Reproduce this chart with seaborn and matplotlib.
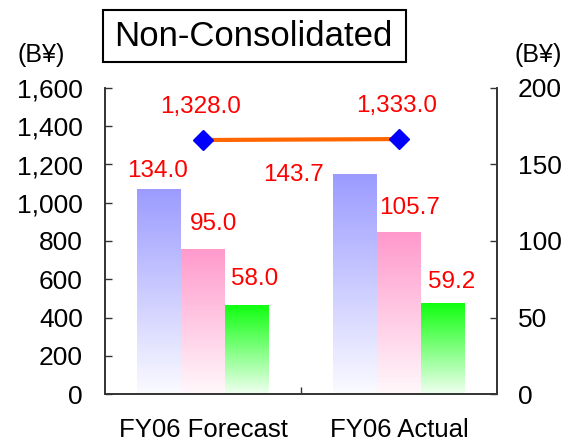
import numpy as np
import pandas as pd
import matplotlib
matplotlib.use("Agg")
import matplotlib.pyplot as plt
from matplotlib.patches import Rectangle
from matplotlib.colors import to_rgb
import seaborn as sns

# ---- data -------------------------------------------------------------
periods = ["FY06 Forecast", "FY06 Actual"]
series = ["A", "B", "C"]
bar_a = [134.0, 143.7]
bar_b = [95.0, 105.7]
bar_c = [58.0, 59.2]
line_vals = [1328.0, 1333.0]
left_ticks = [0, 200, 400, 600, 800, 1000, 1200, 1400, 1600]
right_ticks = [0, 50, 100, 150, 200]

sns.set_theme(style="white")
plt.rcParams["font.family"] = ["Liberation Sans", "DejaVu Sans"]

df = pd.DataFrame({
    "period": periods * 3,
    "series": [s for s in series for _ in periods],
    "value": bar_a + bar_b + bar_c,
})

fig = plt.figure(figsize=(5.65, 4.43), dpi=100)
ax = fig.add_axes([105 / 565, 49 / 443, 392 / 565, 306 / 443])
ax2 = ax.twinx()

# bars on the right-hand scale
sns.barplot(data=df, x="period", y="value", hue="series", order=periods,
            hue_order=series, width=0.67, gap=0, ax=ax2, legend=False,
            edgecolor="none", linewidth=0)

top_colors = ["#9b9bff", "#ff99cc", "#10ff10"]
bottom_colors = ["#fbfbff", "#fff8fb", "#f0fff0"]
patches = list(ax2.patches)
for i, p in enumerate(patches):
    k = i // len(periods)
    x0, w, h = p.get_x(), p.get_width(), p.get_height()
    t = np.array(to_rgb(top_colors[k]))
    b = np.array(to_rgb(bottom_colors[k]))
    f = np.linspace(0, 1, 256)[:, None]
    grad = (t * (1 - f) + b * f)[:, None, :]
    im = ax2.imshow(grad, extent=[x0, x0 + w, 0, h], origin="upper",
                    aspect="auto", zorder=1, interpolation="bilinear")
    im.set_clip_path(p)
    p.set_facecolor("none")

ax2.set_ylim(0, 200)
ax2.set_xlim(-0.5, 1.5)

# line on the left-hand scale
ax.plot([0, 1], line_vals, color="#ff6600", lw=3, zorder=3)
ax.plot([0, 1], line_vals, ls="none", marker="D", ms=10,
        color="#0000ff", zorder=4)
ax.set_ylim(0, 1600)
ax.set_xlim(-0.5, 1.5)
ax.set_zorder(ax2.get_zorder() + 1)
ax.patch.set_visible(False)

# value labels
red = "#ff0000"
lfs = 17.5
for xi, v in enumerate(line_vals):
    ax.annotate(f"{v:,.1f}", (xi, v), xytext=(-2, 33),
                textcoords="offset pixels", ha="center", va="center",
                color=red, fontsize=lfs)

bw = patches[0].get_width()
label_offsets = {
    (0, 0): (-2, 18), (0, 1): (-62, -1),
    (1, 0): (11, 25), (1, 1): (11, 24),
    (2, 0): (8, 26), (2, 1): (9, 21),
}
for k, vals in enumerate([bar_a, bar_b, bar_c]):
    for xi, v in enumerate(vals):
        xc = xi + (k - 1) * bw
        dx, dy = label_offsets[(k, xi)]
        ax2.annotate(f"{v:.1f}", (xc, v), xytext=(dx, dy),
                     textcoords="offset pixels", ha="center", va="center",
                     color=red, fontsize=lfs)

# axes styling
tfs = 19
ax.set_yticks(left_ticks)
ax.set_yticklabels([f"{t:,}" for t in left_ticks])
ax2.set_yticks(right_ticks)
ax2.set_yticklabels([str(t) for t in right_ticks])
ax.set_xticks([0, 1])
ax.set_xticklabels(periods)
ax.set_xticks([0.5], minor=True)
ax.tick_params(axis="x", which="major", length=0, pad=17, labelsize=18.5,
               colors="black")
ax.tick_params(axis="x", which="minor", direction="in", length=5,
               width=1, color="#333333", bottom=True)
ax.tick_params(axis="y", direction="in", length=5, width=1,
               color="#333333", pad=16, labelsize=tfs, left=True,
               labelcolor="black")
ax2.tick_params(axis="y", direction="in", length=5, width=1,
                color="#333333", pad=15, labelsize=tfs, right=True,
                labelcolor="black")
ax.set_xlabel("")
ax.set_ylabel("")
ax2.set_xlabel("")
ax2.set_ylabel("")
for a in (ax, ax2):
    a.spines["top"].set_visible(False)
    for s in ("left", "right", "bottom"):
        a.spines[s].set_color("#333333")
        a.spines[s].set_linewidth(1.2)
ax2.tick_params(axis="x", length=0, labelbottom=False)

# unit captions
fig.text(41 / 565, 1 - 55 / 443, "(B¥)", ha="center", va="center",
         fontsize=18, color="black")
fig.text(538 / 565, 1 - 55 / 443, "(B¥)", ha="center", va="center",
         fontsize=18, color="black")

# framed title
fig.patches.append(Rectangle((103 / 565, 1 - 62 / 443), 303 / 565,
                             52 / 443, transform=fig.transFigure,
                             fill=False, edgecolor="black", lw=1.5))
fig.text(253 / 565, 1 - 36 / 443, "Non-Consolidated", ha="center",
         va="center", fontsize=25, color="black")

fig.savefig("out.png", dpi=100)
